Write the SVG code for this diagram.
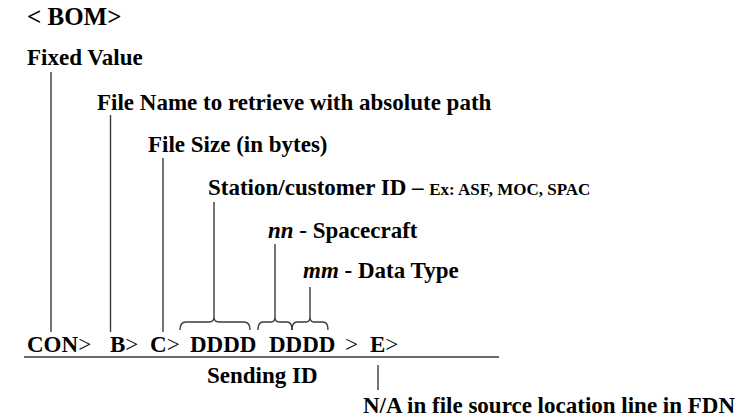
<svg xmlns="http://www.w3.org/2000/svg" width="739" height="419" viewBox="0 0 739 419">
<style>
text{font-family:"Liberation Serif","Times New Roman",serif;font-weight:bold;fill:#000;font-size:23px}
.r{font-weight:normal}
.i{font-style:italic}
.sm{font-size:17px}
.ln{stroke:#3a3a3a;stroke-width:1.4;fill:none}
</style>
<rect width="739" height="419" fill="#fff"/>
<g id="bom"><text x="27" y="25" style="font-size:25px">&lt; BOM&gt;</text></g>
<g id="fixed"><text x="27" y="65">Fixed Value</text></g>
<g id="filename"><text x="97" y="110">File Name to retrieve with absolute path</text></g>
<g id="filesize"><text x="148" y="152">File Size (in bytes)</text></g>
<g id="station"><text x="208" y="195">Station/customer ID <tspan>–</tspan> <tspan class="sm">Ex: ASF, MOC, SPAC</tspan></text></g>
<g id="spacecraft"><text x="268" y="238"><tspan class="i">nn</tspan> - Spacecraft</text></g>
<g id="datatype"><text x="303" y="278"><tspan class="i">mm</tspan> - Data Type</text></g>
<g id="row">
<text x="27" y="352">CON<tspan class="r">&gt;</tspan></text>
<text x="110" y="352">B<tspan class="r">&gt;</tspan></text>
<text x="150" y="352">C<tspan class="r">&gt;</tspan></text>
<text x="190" y="352">DDDD</text>
<text x="269" y="352">DDDD</text>
<text x="345" y="352" class="r">&gt;</text>
<text x="370" y="352">E<tspan class="r">&gt;</tspan></text>
</g>
<g id="sending"><text x="207" y="383">Sending ID</text></g>
<g id="na"><text x="363" y="413">N/A in file source location line in FDN</text></g>
<g id="connectors" class="ln">
<line x1="51" y1="72" x2="51" y2="332"/>
<line x1="110.5" y1="115" x2="110.5" y2="332"/>
<line x1="163" y1="158" x2="163" y2="332"/>
<line x1="214" y1="202" x2="214" y2="317"/>
<line x1="275" y1="244" x2="275" y2="317"/>
<line x1="310" y1="287" x2="310" y2="317"/>
<line x1="378" y1="365" x2="378" y2="390"/>
<line x1="24" y1="357" x2="499" y2="357"/>
<path d="M180,330 Q180,322 186,322 L209,322 Q214,322 214,317 Q214,322 219,322 L244,322 Q250,322 250,330"/>
<path d="M258,330 Q258,322 263,322 L271,322 Q275,322 275,317 Q275,322 279,322 L287,322 Q292,322 292,330"/>
<path d="M292,330 Q292,322 297,322 L306,322 Q310,322 310,317 Q310,322 314,322 L323,322 Q328,322 328,330"/>
</g>
</svg>
